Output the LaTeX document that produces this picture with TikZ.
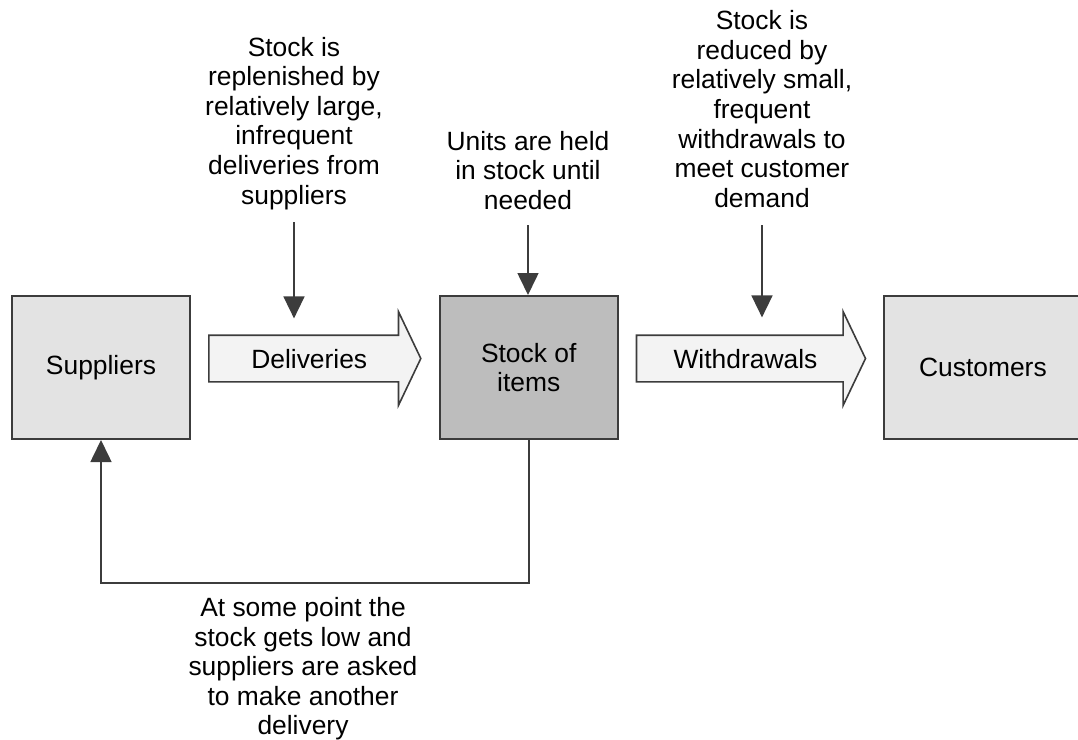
\documentclass[tikz,border=0pt]{standalone}
\usepackage{fontspec}
\setmainfont{Liberation Sans}
\usepackage{xcolor}
\usepackage{tikz}
\usetikzlibrary{positioning, arrows.meta, shapes.arrows}
\definecolor{boxGrey}{HTML}{E3E3E3}
\definecolor{stockGrey}{HTML}{BDBDBD}
\definecolor{flowGrey}{HTML}{F3F3F3}
\definecolor{lineGrey}{HTML}{3C3C3C}

\begin{document}
\begin{tikzpicture}[x=0.5pt, y=-0.5pt,
    font=\fontsize{13.2}{14.8}\selectfont,
    node distance=8.5pt,
    party/.style={draw=lineGrey, line width=1pt, fill=boxGrey, align=center,
      minimum width=89pt, minimum height=71.5pt, inner sep=0pt},
    flow/.style={single arrow, draw=lineGrey, line width=0.8pt, fill=flowGrey,
      single arrow head extend=11.75pt, single arrow tip angle=129,
      single arrow head indent=0pt, inner xsep=0pt, inner ysep=0pt,
      text height=16pt, text depth=6.5pt},
    note/.style={align=center, inner sep=0pt, anchor=south},
    ptr/.style={-{Triangle[width=10.5pt, length=11pt]}, line width=0.8pt, lineGrey}]
    \useasboundingbox (0,0) rectangle (1078,740);
    % stock chain
    \node[party] (sup) at (101,367.5) {Suppliers};
    \node[flow, minimum height=106pt, right=of sup, yshift=4.5pt] (deliv) {Deliveries};
    \node[party, fill=stockGrey, right=of deliv, yshift=-4.5pt] (stock) {Stock of\\items};
    \node[flow, minimum height=114.5pt, right=of stock, yshift=4.5pt] (wdraw) {Withdrawals};
    \node[party, minimum width=98.5pt, right=of wdraw, yshift=-4.5pt] (cust) {Customers};
    % notes
    \node[note] (replNote) at (294,210) {Stock is\\replenished by\\relatively large,\\infrequent\\deliveries from\\suppliers};
    \node[note] (heldNote) at (528,210) {Units are held\\in stock until\\needed};
    \node[note] (drawNote) at (762,208) {Stock is\\reduced by\\relatively small,\\frequent\\withdrawals to\\meet customer\\demand};
    \node[align=center, inner sep=0pt, anchor=north] (lowNote) at (303,597) {At some point the\\stock gets low and\\suppliers are asked\\to make another\\delivery};
    \draw[ptr, shorten <=6pt, shorten >=8pt] (replNote) -- (replNote |- deliv.north);
    \draw[ptr, shorten <=7.5pt] (heldNote) -- (heldNote |- stock.north);
    \draw[ptr, shorten <=8.5pt, shorten >=8.5pt] (drawNote) -- (drawNote |- wdraw.north);
    \draw[ptr] (stock.south) -- ++(0,143) -| (sup.south);
  \end{tikzpicture}
\end{document}
